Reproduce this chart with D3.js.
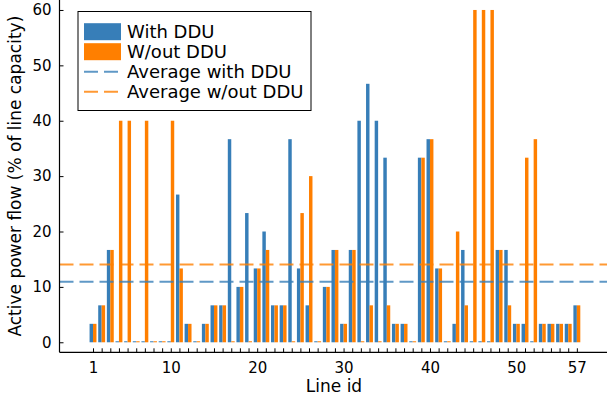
<!DOCTYPE html>
<html>
<head>
<meta charset="utf-8">
<script src="https://cdn.jsdelivr.net/npm/d3@7"></script>
<style>
  body { margin: 0; background: #fff; }
  text { font-family: "DejaVu Sans", sans-serif; fill: #000; }
</style>
</head>
<body>
<div id="root"></div>
<script>
// line ids and active power flow (% of line capacity)
const lineIds = d3.range(1, 58);
const withDDU = [
  3.33, 6.67, 16.67, 0, 0, 0, 0, 0, 0, 0,
  26.67, 3.33, 0, 3.33, 6.67, 6.67, 36.67, 10, 23.33, 13.33,
  20, 6.67, 6.67, 36.67, 13.33, 6.67, 0, 10, 16.67, 3.33,
  16.67, 40, 46.67, 40, 33.33, 3.33, 3.33, 0, 33.33, 36.67,
  13.33, 0, 3.33, 16.67, 0, 0, 0, 16.67, 16.67, 3.33,
  3.33, 0, 3.33, 3.33, 3.33, 3.33, 6.67
];
const withoutDDU = [
  3.33, 6.67, 16.67, 40, 40, 0, 40, 0, 0, 40,
  13.33, 3.33, 0, 3.33, 6.67, 6.67, 0, 10, 0, 13.33,
  16.67, 6.67, 6.67, 0, 23.33, 30, 0, 10, 16.67, 3.33,
  16.67, 0, 6.67, 0, 6.67, 3.33, 3.33, 0, 33.33, 36.67,
  13.33, 0, 20, 6.67, 60, 60, 60, 16.67, 6.67, 3.33,
  33.33, 36.67, 3.33, 3.33, 3.33, 3.33, 6.67
];
const xTickLabels = [1, 10, 20, 30, 40, 50, 57];
const yTicks = [0, 10, 20, 30, 40, 50, 60];
const seriesNames = ["With DDU", "W/out DDU", "Average with DDU", "Average w/out DDU"];

const w = 608;
const h = 401;
const blue = "#377eb8";
const orange = "#ff7f00";

const svg = d3.select("#root")
    .append("svg")
    .attr("width", w)
    .attr("height", h);

const plotL = 59.5, plotR = 607, plotT = 0, plotB = 352.3;

const x = d3.scaleLinear().domain([-2.88, 60.49]).range([plotL, plotR]);
const y = d3.scaleLinear().domain([-1.81, 61.8]).range([plotB, plotT]);

const step = x(2) - x(1);
const barW = step * 0.4;

// bars
const bars = svg.append("g");
lineIds.forEach((id, i) => {
    [[withDDU[i], blue, -barW], [withoutDDU[i], orange, 0]].forEach(([v, c, off]) => {
        let top = y(v);
        let hh = Math.max(y(0) - top, 1);
        bars.append("rect")
            .attr("x", x(id) + off)
            .attr("y", y(0) - hh)
            .attr("width", barW)
            .attr("height", hh)
            .attr("fill", c);
    });
});

// averages
const avgWith = d3.mean(withDDU);
const avgWithout = d3.mean(withoutDDU);
[[avgWith, blue], [avgWithout, orange]].forEach(([v, c]) => {
    svg.append("line")
        .attr("x1", plotL).attr("x2", plotR)
        .attr("y1", y(v)).attr("y2", y(v))
        .attr("stroke", c)
        .attr("stroke-opacity", 0.8)
        .attr("stroke-width", 2)
        .attr("stroke-dasharray", "14,6");
});

// axes
const xAxis = d3.axisBottom(x)
    .tickValues(lineIds)
    .tickSize(-4)
    .tickFormat(d => xTickLabels.includes(d) ? d : "");
const gx = svg.append("g")
    .attr("transform", `translate(0,${plotB})`)
    .call(xAxis);
gx.select(".domain").attr("d", `M${plotL},0H${plotR}`).attr("stroke-width", 1.2);
gx.selectAll("text").attr("font-size", 15).attr("dy", "1.15em");

const yAxis = d3.axisLeft(y)
    .tickValues(yTicks)
    .tickSize(-4);
const gy = svg.append("g")
    .attr("transform", `translate(${plotL},0)`)
    .call(yAxis);
gy.select(".domain").attr("d", `M0,${plotT}V${plotB}`).attr("stroke-width", 1.2);
gy.selectAll("text").attr("font-size", 15).attr("x", -8);
svg.selectAll(".tick text").attr("font-family", "DejaVu Sans").attr("fill", "#000");

svg.append("text")
    .attr("x", 334)
    .attr("y", 392)
    .attr("text-anchor", "middle")
    .attr("font-size", 17)
    .text("Line id");

svg.append("text")
    .attr("transform", `translate(21,${(plotT + plotB) / 2}) rotate(-90)`)
    .attr("text-anchor", "middle")
    .attr("font-size", 17)
    .text("Active power flow (% of line capacity)");

// legend
const legend = svg.append("g");
legend.append("rect")
    .attr("x", 78).attr("y", 11.5)
    .attr("width", 233).attr("height", 99)
    .attr("fill", "#fff")
    .attr("stroke", "#000")
    .attr("stroke-width", 1);
const rowY = [31.7, 51.7, 71.7, 91.7];
seriesNames.forEach((name, i) => {
    let c = i % 2 === 0 ? blue : orange;
    if (i < 2) {
        legend.append("rect")
            .attr("x", 84).attr("y", rowY[i] - 8.5)
            .attr("width", 37).attr("height", 17)
            .attr("fill", c);
    } else {
        legend.append("line")
            .attr("x1", 84).attr("x2", 121)
            .attr("y1", rowY[i]).attr("y2", rowY[i])
            .attr("stroke", c)
            .attr("stroke-opacity", 0.8)
            .attr("stroke-width", 2)
            .attr("stroke-dasharray", "14,6");
    }
    legend.append("text")
        .attr("x", 127)
        .attr("y", rowY[i])
        .attr("dy", "0.36em")
        .attr("font-size", 18)
        .text(name);
});
</script>
</body>
</html>
